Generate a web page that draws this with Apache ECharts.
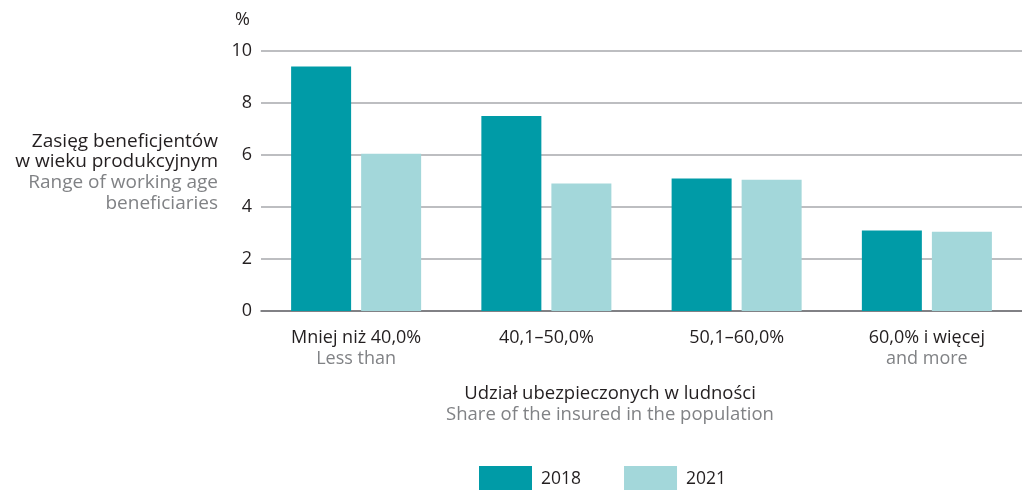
<!DOCTYPE html>
<html>
<head>
<meta charset="utf-8">
<script src="https://cdn.jsdelivr.net/npm/echarts@6/dist/echarts.min.js"></script>
<style>
  html, body { margin: 0; padding: 0; background: #fff; }
  #echart { width: 1022px; height: 490px; }
</style>
</head>
<body>
<div id="echart"></div>
<script>
var categories = ['Mniej niż 40,0%', '40,1–50,0%', '50,1–60,0%', '60,0% i więcej'];
var categoriesEn = ['Less than', '', '', 'and more'];
var years = ['2018', '2021'];
var data2018 = [9.4, 7.5, 5.1, 3.1];
var data2021 = [6.05, 4.9, 5.05, 3.05];
var yTicks = [0, 2, 4, 6, 8, 10];

var font = '"Open Sans", sans-serif';
var dark = '#231f20';
var grey = '#808285';

var myChart = echarts.init(document.getElementById('echart'));

var option = {
    animation: false,
    textStyle: { fontFamily: font },
    grid: { left: 261, right: 0, top: 51, bottom: 179, containLabel: false },
    legend: {
        data: years,
        left: 479,
        top: 466,
        padding: 0,
        itemWidth: 53,
        itemHeight: 26,
        itemGap: 43,
        icon: 'rect',
        textStyle: { fontFamily: font, fontSize: 17.5, color: dark, padding: [10, 0, 0, 4] }
    },
    xAxis: {
        type: 'category',
        data: categories,
        axisTick: { show: false },
        axisLine: { show: true, lineStyle: { color: '#6d6e71', width: 1.5 } },
        axisLabel: {
            margin: 16,
            interval: 0,
            formatter: function (value, idx) {
                var en = categoriesEn[idx];
                return en ? value + '\n{b|' + en + '}' : value;
            },
            fontFamily: font,
            fontSize: 18,
            color: dark,
            lineHeight: 21,
            rich: {
                b: { fontFamily: font, fontSize: 18, color: grey, lineHeight: 21 }
            }
        }
    },
    yAxis: {
        type: 'value',
        min: yTicks[0],
        max: yTicks[yTicks.length - 1],
        interval: 2,
        axisLine: { show: false },
        axisTick: { show: false },
        splitLine: { lineStyle: { color: '#a7a9ac', width: 1.5 } },
        axisLabel: { margin: 9, fontFamily: font, fontSize: 18, color: dark }
    },
    graphic: [
        {
            type: 'text', x: 235, y: 11,
            style: { text: '%', fontFamily: font, fontSize: 18, fill: dark }
        },
        {
            type: 'text', x: 218, y: 131,
            style: {
                text: '{a|Zasięg beneficjentów}\n{a|w wieku produkcyjnym}\n{b|Range of working age}\n{b|beneficiaries}',
                align: 'right',
                rich: {
                    a: { fontFamily: font, fontSize: 19, fill: dark, lineHeight: 20.7, align: 'right' },
                    b: { fontFamily: font, fontSize: 19, fill: grey, lineHeight: 20.7, align: 'right' }
                }
            }
        },
        {
            type: 'text', x: 610, y: 383,
            style: {
                text: '{a|Udział ubezpieczonych w ludności}\n{b|Share of the insured in the population}',
                align: 'center',
                rich: {
                    a: { fontFamily: font, fontSize: 18.5, fill: dark, lineHeight: 21, align: 'center' },
                    b: { fontFamily: font, fontSize: 18.5, fill: grey, lineHeight: 21, align: 'center' }
                }
            }
        }
    ],
    series: [
        {
            name: years[0],
            type: 'bar',
            barWidth: 60,
            barGap: '16.7%',
            itemStyle: { color: '#009ba7' },
            data: data2018
        },
        {
            name: years[1],
            type: 'bar',
            barWidth: 60,
            barGap: '16.7%',
            itemStyle: { color: '#a3d7da' },
            data: data2021
        }
    ]
};
myChart.setOption(option);
</script>
</body>
</html>
